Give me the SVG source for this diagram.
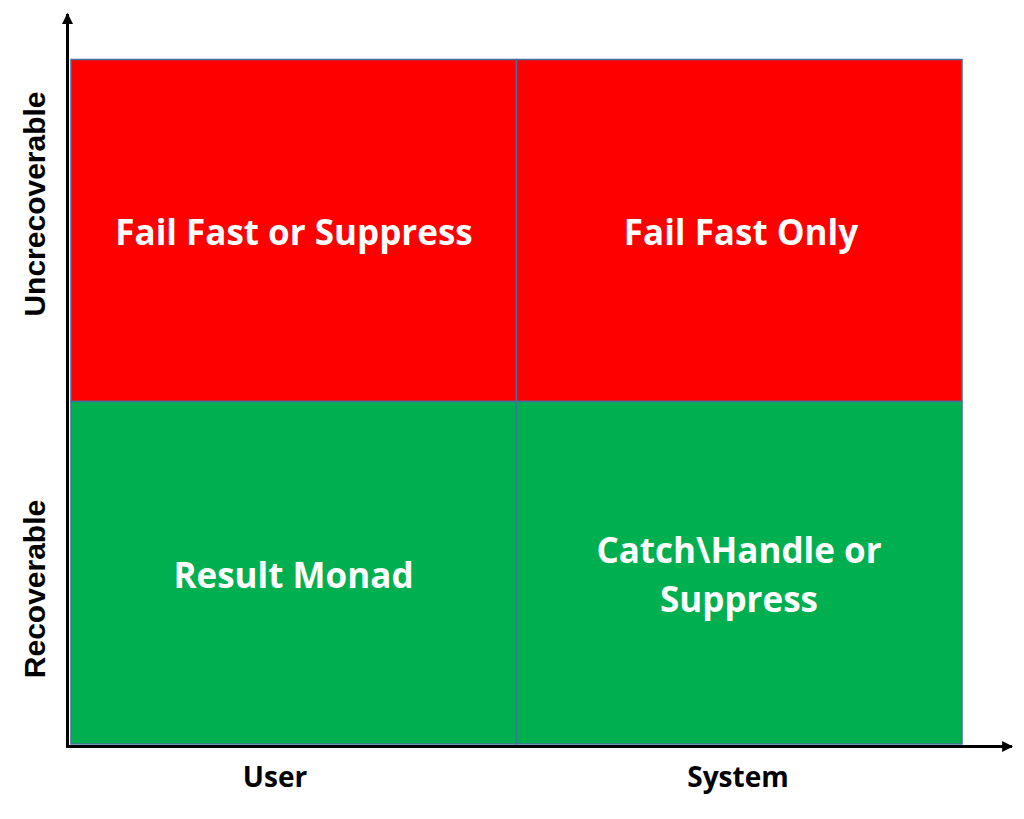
<svg xmlns="http://www.w3.org/2000/svg" width="1024" height="819" viewBox="0 0 1024 819">
<style>
.cell{stroke:#41719C;stroke-width:1.5}
.red{fill:#FF0000}
.green{fill:#00B050}
.lbl{font-family:"Open Sans","Liberation Sans",sans-serif;font-weight:bold;font-size:35px;fill:#FFFFFF;text-anchor:middle}
.ax{font-family:"Liberation Sans",Arial,sans-serif;font-weight:bold;font-size:30px;fill:#000000;text-anchor:middle}
.axc{font-family:"Open Sans","Liberation Sans",sans-serif;font-weight:bold;font-size:28px;fill:#000000;text-anchor:middle}
.axis{stroke:#000000;stroke-width:3;fill:none}
</style>
<defs>
<marker id="arr" viewBox="0 0 10 10" refX="9" refY="5" markerWidth="11" markerHeight="11" markerUnits="userSpaceOnUse" orient="auto">
<path d="M0,0 L10,5 L0,10 z" fill="#000000"/>
</marker>
</defs>
<rect width="1024" height="819" fill="#FFFFFF"/>
<g id="cell-top-left">
<rect class="cell red" x="71" y="59.5" width="445.5" height="342"/>
<text class="lbl" x="294" y="245">Fail Fast or Suppress</text>
</g>
<g id="cell-top-right">
<rect class="cell red" x="516.5" y="59.5" width="445.5" height="342"/>
<text class="lbl" x="741" y="245">Fail Fast Only</text>
</g>
<g id="cell-bottom-left">
<rect class="cell green" x="71" y="401.5" width="445.5" height="342.5"/>
<text class="lbl" x="293.5" y="588">Result Monad</text>
</g>
<g id="cell-bottom-right">
<rect class="cell green" x="516.5" y="401.5" width="445.5" height="342.5"/>
<text class="lbl" x="739" y="563">Catch\Handle or</text>
<text class="lbl" x="739" y="612">Suppress</text>
</g>
<g id="connectors">
<line class="axis" x1="67.5" y1="748" x2="67.5" y2="14" marker-end="url(#arr)"/>
<line class="axis" x1="66" y1="746.5" x2="1012" y2="746.5" marker-end="url(#arr)"/>
</g>
<g id="axis-labels">
<text class="ax" transform="translate(45,204) rotate(-90)">Uncrecoverable</text>
<text class="ax" transform="translate(45,589) rotate(-90)">Recoverable</text>
<text class="axc" x="275" y="787">User</text>
<text class="axc" x="738" y="787">System</text>
</g>
</svg>
